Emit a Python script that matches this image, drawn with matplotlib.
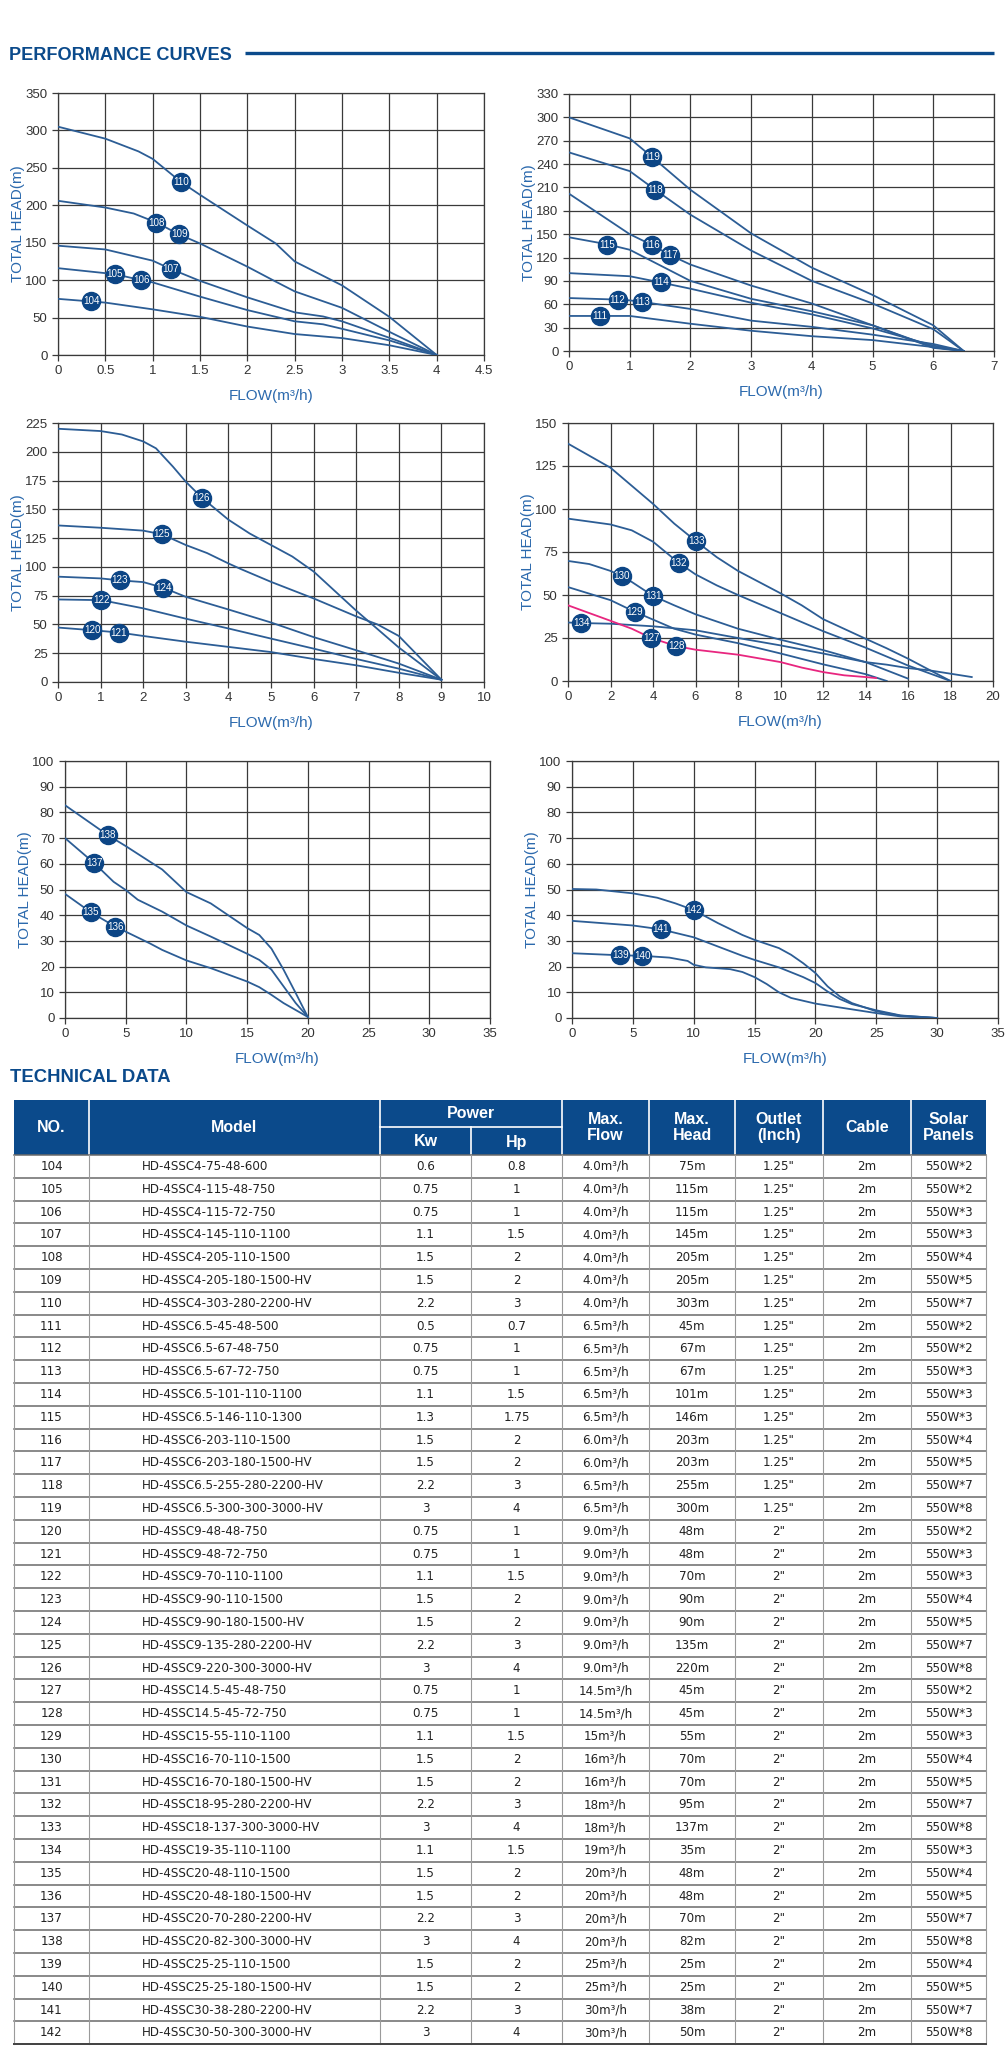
import numpy as np
import matplotlib
matplotlib.use('Agg')
import matplotlib.pyplot as plt
from matplotlib import font_manager as fm
from matplotlib.patches import Rectangle
from matplotlib.ticker import FuncFormatter

plt.rcParams['font.family'] = ['Liberation Sans', 'DejaVu Sans']

# ---------------- curve data (flow m3/h, head m) ----------------
# chart 1
c1_flow = [
    [0, 0.5, 0.85, 1.0, 1.3, 1.5, 2.0, 2.3, 2.5, 3.0, 3.5, 4.0],
    [0, 0.5, 0.8, 1.04, 1.28, 1.5, 2.0, 2.3, 2.5, 3.0, 3.5, 4.0],
    [0, 0.5, 1.0, 1.19, 1.5, 2.0, 2.5, 2.8, 3.0, 3.5, 4.0],
    [0, 0.6, 0.88, 1.0, 1.5, 2.0, 2.5, 2.8, 3.0, 3.5, 4.0],
    [0, 0.35, 0.5, 1.0, 1.5, 2.0, 2.5, 3.0, 3.5, 4.0],
]
c1_head = [
    [305, 289, 272, 262, 231, 214, 173, 149, 125, 93, 51, 0],
    [206, 197, 189, 177, 161, 149, 118, 98, 85, 63, 31, 0],
    [146, 141, 126, 115, 99, 77, 57, 51.5, 45, 23, 0],
    [116, 108, 100, 97, 78, 60, 45, 41, 35, 19.5, 0],
    [75, 71.5, 70, 61, 51, 38, 28, 22.6, 13, 0],
]
c1_tags = ['110', '108', '109', '107', '105', '106', '104']
c1_tag_flow = [1.30, 1.04, 1.28, 1.19, 0.60, 0.88, 0.35]
c1_tag_head = [231, 177, 161, 115, 108, 100, 71.5]

# chart 2
c2_flow = [
    [0, 1, 1.37, 2, 3, 4, 5, 6, 6.5],
    [0, 1, 1.42, 2, 3, 4, 5, 6, 6.5],
    [0, 1, 1.37, 1.67, 2, 3, 4, 5, 6, 6.5],
    [0, 0.63, 1, 2, 3, 4, 5, 6, 6.5],
    [0, 1, 1.51, 2, 3, 4, 5, 6, 6.5],
    [0, 0.8, 1, 1.21, 2, 3, 4, 5, 6, 6.5],
    [0, 0.5, 1, 2, 3, 4, 5, 6, 6.5],
]
c2_head = [
    [300, 273, 249, 207, 151, 107, 72, 33, 0],
    [255, 231, 207, 175, 129, 90, 61, 28, 0],
    [202, 150, 136, 123, 111, 84, 61, 33, 5, 0],
    [146, 137, 130, 90, 67, 51, 33, 4, 0],
    [100, 96, 88, 80, 62, 47, 29, 7, 0],
    [68, 66, 65, 63, 54, 39, 31, 21, 9, 0],
    [45, 45, 45, 35, 26, 19, 14, 5, 0],
]
c2_tags = ['119', '118', '115', '116', '117', '114', '112', '113', '111']
c2_tag_flow = [1.37, 1.42, 0.63, 1.37, 1.67, 1.51, 0.80, 1.21, 0.51]
c2_tag_head = [249, 207, 136, 136, 123, 88, 66, 63, 45]

# chart 3
c3_flow = [
    [0, 1, 1.5, 2, 2.3, 2.7, 3, 3.38, 4, 4.5, 5, 5.5, 6, 7, 8, 9],
    [0, 1, 2, 2.44, 3, 3.5, 4, 4.3, 5, 6, 7, 7.5, 8, 9],
    [0, 1, 1.45, 2, 2.47, 3, 4, 5, 6, 7, 8, 9],
    [0, 1.02, 2, 3, 4, 5, 6, 7, 8, 9],
    [0, 0.8, 1.43, 2, 3, 4, 5, 6, 7, 8, 9],
]
c3_head = [
    [220, 218, 215, 209, 203, 187, 174, 160, 141, 129, 119, 109, 96, 62, 30, 2],
    [136, 134, 131.5, 128.3, 119, 112, 103, 98, 87, 72.6, 57, 50, 40, 2],
    [91.5, 90, 88.3, 86.8, 81.9, 74, 63, 51.7, 39, 27.6, 16, 2],
    [71.7, 71.1, 64, 55, 46.5, 37.7, 29, 20, 11.6, 2],
    [47.3, 45, 43, 40, 35, 30.5, 26, 20, 14.5, 8, 2],
]
c3_tags = ['126', '125', '123', '124', '122', '120', '121']
c3_tag_flow = [3.38, 2.44, 1.45, 2.47, 1.02, 0.80, 1.43]
c3_tag_head = [160, 128.3, 88.3, 81.9, 71.1, 45, 43]

# chart 4 (last curve drawn in pink)
c4_flow = [
    [0, 2, 4, 5, 6.03, 7, 8, 10, 11, 12, 14, 15, 16, 18],
    [0, 2, 3, 4, 5.2, 6, 7, 8, 10, 12, 14, 16, 18],
    [0, 1, 2, 2.54, 3, 4.01, 5, 6, 8, 10, 12, 14, 16],
    [0, 2, 3.13, 4, 5, 6, 8, 10, 12, 14, 15],
    [0, 0.63, 2, 4, 6, 8, 10, 12, 14, 15, 16, 17, 19],
    [0, 2, 3, 3.92, 5.09, 6, 8, 10, 11, 12, 13, 14, 14.5],
]
c4_head = [
    [138, 124, 103, 91.5, 81.2, 72, 64, 51, 44, 36, 24.6, 19, 13, 0],
    [94.4, 91, 87.6, 81, 68.8, 62, 55.6, 50, 39.5, 29, 19.4, 9, 0],
    [69.8, 68, 64, 60.9, 57.6, 49.4, 44, 38.8, 30.4, 24, 18, 11, 1.4],
    [54.6, 47, 40.3, 35.7, 30.4, 27, 22, 16, 9.7, 4, 0],
    [34, 33.7, 33.3, 31.8, 29.5, 25, 20.7, 16, 11, 9.5, 7.5, 6.2, 2.3],
    [44, 35, 30.4, 25, 20.3, 18.2, 15.3, 11, 7.8, 5.2, 3.3, 2.3, 1.7],
]
c4_colors = ['#2c5d95'] * 5 + ['#e8267f']
c4_tags = ['133', '132', '130', '131', '129', '134', '127', '128']
c4_tag_flow = [6.03, 5.2, 2.54, 4.01, 3.13, 0.63, 3.92, 5.09]
c4_tag_head = [81.2, 68.8, 60.9, 49.4, 40.3, 33.7, 25, 20.3]

# chart 5
c5_flow = [
    [0, 3.51, 5, 7, 8, 10, 12, 13, 15, 16, 17, 18, 19, 20],
    [0, 2.42, 4, 5, 6, 8, 10, 12, 15, 16, 17, 18, 19, 20],
    [0, 2.14, 4.12, 5, 7, 8, 10, 12, 15, 16, 17, 18, 20],
]
c5_head = [
    [82.8, 71.2, 66.9, 60.8, 57.8, 49, 44.6, 41.4, 35, 32.3, 27, 18.8, 9.7, 0.4],
    [70, 60.2, 53, 49.8, 46, 41.4, 36, 31.7, 25, 22.6, 18.8, 12.3, 5.8, 0.4],
    [48.3, 41.1, 35.6, 33.6, 29, 26.5, 22.4, 19.4, 14.2, 12, 9, 5.8, 0.4],
]
c5_tags = ['138', '137', '135', '136']
c5_tag_flow = [3.51, 2.42, 2.14, 4.12]
c5_tag_head = [71.2, 60.2, 41.1, 35.6]

# chart 6
c6_flow = [
    [0, 2, 5, 7, 8.5, 10, 12, 14, 15, 17, 18, 19, 20, 21, 22, 23, 25, 27, 30],
    [0, 5, 7.3, 10, 12, 14, 15, 17, 19, 20, 21, 22, 23, 25, 27, 30],
    [0, 3.98, 5.79, 8, 9.5, 10, 11, 13, 14, 15, 16, 17, 18, 20, 22, 25, 27, 30],
]
c6_head = [
    [50.2, 50, 48.5, 46.8, 44.6, 42, 36.9, 32.3, 30.4, 27.2, 24.6, 21.3, 17.5, 12.3, 8.4, 5.8, 2.6, 0.9, 0],
    [37.8, 36, 34.5, 31.4, 27.8, 24.2, 22.6, 19.7, 15.9, 13.6, 10.3, 7.4, 5.4, 3, 1, 0],
    [25.2, 24.4, 24.2, 23.5, 22.2, 20.7, 19.7, 19, 17.9, 15.9, 13.2, 10, 7.8, 5.6, 4.1, 1.9, 0.6, 0],
]
c6_tags = ['142', '141', '139', '140']
c6_tag_flow = [10.0, 7.3, 3.98, 5.79]
c6_tag_head = [42, 34.5, 24.4, 24.2]

# ---------------- table data ----------------
nos = list(range(104, 143))
models = [
    'HD-4SSC4-75-48-600', 'HD-4SSC4-115-48-750', 'HD-4SSC4-115-72-750',
    'HD-4SSC4-145-110-1100', 'HD-4SSC4-205-110-1500', 'HD-4SSC4-205-180-1500-HV',
    'HD-4SSC4-303-280-2200-HV', 'HD-4SSC6.5-45-48-500', 'HD-4SSC6.5-67-48-750',
    'HD-4SSC6.5-67-72-750', 'HD-4SSC6.5-101-110-1100', 'HD-4SSC6.5-146-110-1300',
    'HD-4SSC6-203-110-1500', 'HD-4SSC6-203-180-1500-HV', 'HD-4SSC6.5-255-280-2200-HV',
    'HD-4SSC6.5-300-300-3000-HV', 'HD-4SSC9-48-48-750', 'HD-4SSC9-48-72-750',
    'HD-4SSC9-70-110-1100', 'HD-4SSC9-90-110-1500', 'HD-4SSC9-90-180-1500-HV',
    'HD-4SSC9-135-280-2200-HV', 'HD-4SSC9-220-300-3000-HV', 'HD-4SSC14.5-45-48-750',
    'HD-4SSC14.5-45-72-750', 'HD-4SSC15-55-110-1100', 'HD-4SSC16-70-110-1500',
    'HD-4SSC16-70-180-1500-HV', 'HD-4SSC18-95-280-2200-HV', 'HD-4SSC18-137-300-3000-HV',
    'HD-4SSC19-35-110-1100', 'HD-4SSC20-48-110-1500', 'HD-4SSC20-48-180-1500-HV',
    'HD-4SSC20-70-280-2200-HV', 'HD-4SSC20-82-300-3000-HV', 'HD-4SSC25-25-110-1500',
    'HD-4SSC25-25-180-1500-HV', 'HD-4SSC30-38-280-2200-HV', 'HD-4SSC30-50-300-3000-HV',
]
kw = ['0.6', '0.75', '0.75', '1.1', '1.5', '1.5', '2.2', '0.5', '0.75', '0.75', '1.1', '1.3',
      '1.5', '1.5', '2.2', '3', '0.75', '0.75', '1.1', '1.5', '1.5', '2.2', '3', '0.75',
      '0.75', '1.1', '1.5', '1.5', '2.2', '3', '1.1', '1.5', '1.5', '2.2', '3', '1.5',
      '1.5', '2.2', '3']
hp = ['0.8', '1', '1', '1.5', '2', '2', '3', '0.7', '1', '1', '1.5', '1.75',
      '2', '2', '3', '4', '1', '1', '1.5', '2', '2', '3', '4', '1',
      '1', '1.5', '2', '2', '3', '4', '1.5', '2', '2', '3', '4', '2',
      '2', '3', '4']
max_flow = ['4.0'] * 7 + ['6.5'] * 5 + ['6.0'] * 2 + ['6.5'] * 2 + ['9.0'] * 7 + \
           ['14.5', '14.5', '15', '16', '16', '18', '18', '19', '20', '20', '20', '20',
            '25', '25', '30', '30']
max_head = ['75', '115', '115', '145', '205', '205', '303', '45', '67', '67', '101', '146',
            '203', '203', '255', '300', '48', '48', '70', '90', '90', '135', '220', '45',
            '45', '55', '70', '70', '95', '137', '35', '48', '48', '70', '82', '25',
            '25', '38', '50']
outlet = ['1.25"'] * 16 + ['2"'] * 23
cable = ['2m'] * 39
panels = ['2', '2', '3', '3', '4', '5', '7', '2', '2', '3', '3', '3',
          '4', '5', '7', '8', '2', '3', '3', '4', '5', '7', '8', '2',
          '3', '3', '4', '5', '7', '8', '3', '4', '5', '7', '8', '4',
          '5', '7', '8']

# ---------------- styles ----------------
W, H = 1008, 2059
CURVE = '#2c5d95'
NAVY = '#0c4585'
HEAD_BLUE = '#0b4a8b'
LABEL_BLUE = '#2b69ad'
GRID = '#3a3a3a'

title_prop = fm.FontProperties(family=['Liberation Sans', 'DejaVu Sans'], weight='bold')
tag_prop = fm.FontProperties(family=['Liberation Sans', 'DejaVu Sans'], size=7.1)

fig = plt.figure(figsize=(W / 100, H / 100), dpi=100)

# overlay axes in pixel coordinates for titles and the table
tab = fig.add_axes([0, 0, 1, 1])
tab.set_xlim(0, W)
tab.set_ylim(H, 0)
tab.set_axis_off()


def px_axes(x0, y0, x1, y1):
    return fig.add_axes([x0 / W, 1 - y1 / H, (x1 - x0) / W, (y1 - y0) / H])


def chart(box, xmax, xstep, ymax, ystep, flows, heads, tags, tag_x, tag_y, colors=None):
    ax = px_axes(*box)
    for i, (f, h) in enumerate(zip(flows, heads)):
        c = colors[i] if colors else CURVE
        ax.plot(f, h, color=c, lw=1.3, zorder=3, solid_joinstyle='round')
    ax.plot(tag_x, tag_y, 'o', ls='none', ms=13, color=NAVY, zorder=5, clip_on=False)
    for t, x, y in zip(tags, tag_x, tag_y):
        ax.text(x, y, t, color='white', ha='center', va='center', zorder=6,
                fontproperties=tag_prop)
    ax.set_xlim(0, xmax)
    ax.set_ylim(0, ymax)
    ax.set_xticks(np.arange(0, xmax + xstep / 2, xstep))
    ax.set_yticks(np.arange(0, ymax + ystep / 2, ystep))
    ax.xaxis.set_major_formatter(FuncFormatter(lambda v, p: f'{v:g}'))
    ax.grid(True, color=GRID, lw=0.9)
    ax.set_axisbelow(True)
    for s in ax.spines.values():
        s.set_color(GRID)
        s.set_linewidth(0.9)
    ax.tick_params(direction='out', length=4, width=0.9, color=GRID,
                   labelsize=9.5, labelcolor='#333333')
    ax.set_xlabel('FLOW(m³/h)', color=LABEL_BLUE, fontsize=11, labelpad=8)
    ax.set_ylabel('TOTAL HEAD(m)', color=LABEL_BLUE, fontsize=11, labelpad=0)
    return ax


chart((58, 93, 484, 355), 4.5, 0.5, 350, 50, c1_flow, c1_head, c1_tags, c1_tag_flow, c1_tag_head)
chart((569, 94, 994, 351), 7, 1, 330, 30, c2_flow, c2_head, c2_tags, c2_tag_flow, c2_tag_head)
chart((58, 423, 484, 682), 10, 1, 225, 25, c3_flow, c3_head, c3_tags, c3_tag_flow, c3_tag_head)
chart((568, 423, 993, 681), 20, 2, 150, 25, c4_flow, c4_head, c4_tags, c4_tag_flow, c4_tag_head,
      colors=c4_colors)
chart((65, 761, 490, 1018), 35, 5, 100, 10, c5_flow, c5_head, c5_tags, c5_tag_flow, c5_tag_head)
chart((572, 761, 998, 1018), 35, 5, 100, 10, c6_flow, c6_head, c6_tags, c6_tag_flow, c6_tag_head)

# ---------------- section titles ----------------
renderer = fig.canvas.get_renderer()


def fit_width(t, width_px):
    w = t.get_window_extent(renderer=renderer).width
    t.set_fontsize(t.get_fontsize() * width_px / w)


t1 = tab.text(9, 55, 'PERFORMANCE CURVES', fontproperties=title_prop, fontsize=18,
              color=HEAD_BLUE, ha='left', va='center')
fit_width(t1, 222)
tab.plot([245, 994], [53, 53], color=HEAD_BLUE, lw=2.4, solid_capstyle='butt')
t2 = tab.text(10, 1077, 'TECHNICAL DATA', fontproperties=title_prop, fontsize=18,
              color=HEAD_BLUE, ha='left', va='center')
fit_width(t2, 160)

# ---------------- table ----------------
cols = [14, 89, 380, 471, 562, 649, 735, 823, 911, 986]
top, hbot, split = 1100, 1155, 1127
row_h = 22.8
n = len(nos)
bottom = hbot + row_h * n

tab.add_patch(Rectangle((cols[0], top), cols[-1] - cols[0], hbot - top,
                        facecolor=HEAD_BLUE, edgecolor='none'))
for x in cols[1:-1]:
    if x == 471:
        tab.plot([x, x], [split, hbot], color='white', lw=1.2)
    else:
        tab.plot([x, x], [top, hbot], color='white', lw=1.2)
tab.plot([cols[2], cols[4]], [split, split], color='white', lw=1.2)

hdr = dict(color='white', fontsize=11.5, fontweight='bold', ha='center', va='center',
           linespacing=1.15)
mid = (top + hbot) / 2
tab.text((cols[0] + cols[1]) / 2, mid, 'NO.', **hdr)
tab.text((cols[1] + cols[2]) / 2, mid, 'Model', **hdr)
tab.text((cols[2] + cols[4]) / 2, (top + split) / 2, 'Power', **hdr)
tab.text((cols[2] + cols[3]) / 2, (split + hbot) / 2 + 1, 'Kw', **hdr)
tab.text((cols[3] + cols[4]) / 2, (split + hbot) / 2 + 1, 'Hp', **hdr)
tab.text((cols[4] + cols[5]) / 2, mid, 'Max.\nFlow', **hdr)
tab.text((cols[5] + cols[6]) / 2, mid, 'Max.\nHead', **hdr)
tab.text((cols[6] + cols[7]) / 2, mid, 'Outlet\n(Inch)', **hdr)
tab.text((cols[7] + cols[8]) / 2, mid, 'Cable', **hdr)
tab.text((cols[8] + cols[9]) / 2, mid, 'Solar\nPanels', **hdr)

# grid lines of the body
for i in range(n + 1):
    y = hbot + row_h * i
    tab.plot([cols[0], cols[-1]], [y, y], color='#6a6a6a', lw=1.1)
for x in cols:
    tab.plot([x, x], [hbot, bottom], color='#9a9a9a', lw=0.8)
tab.plot([cols[0], cols[-1]], [bottom, bottom], color='#444444', lw=1.4)

body = dict(color='#222222', fontsize=8.6, va='center', family=['DejaVu Sans'])
for i in range(n):
    y = hbot + row_h * (i + 0.5)
    vals = [str(nos[i]), None, kw[i], hp[i], max_flow[i] + 'm³/h', max_head[i] + 'm',
            outlet[i], cable[i], '550W*' + panels[i]]
    for j, v in enumerate(vals):
        if j == 1:
            tab.text(142, y, models[i], ha='left', **body)
        else:
            tab.text((cols[j] + cols[j + 1]) / 2, y, v, ha='center', **body)

fig.savefig('out.png', dpi=100)
